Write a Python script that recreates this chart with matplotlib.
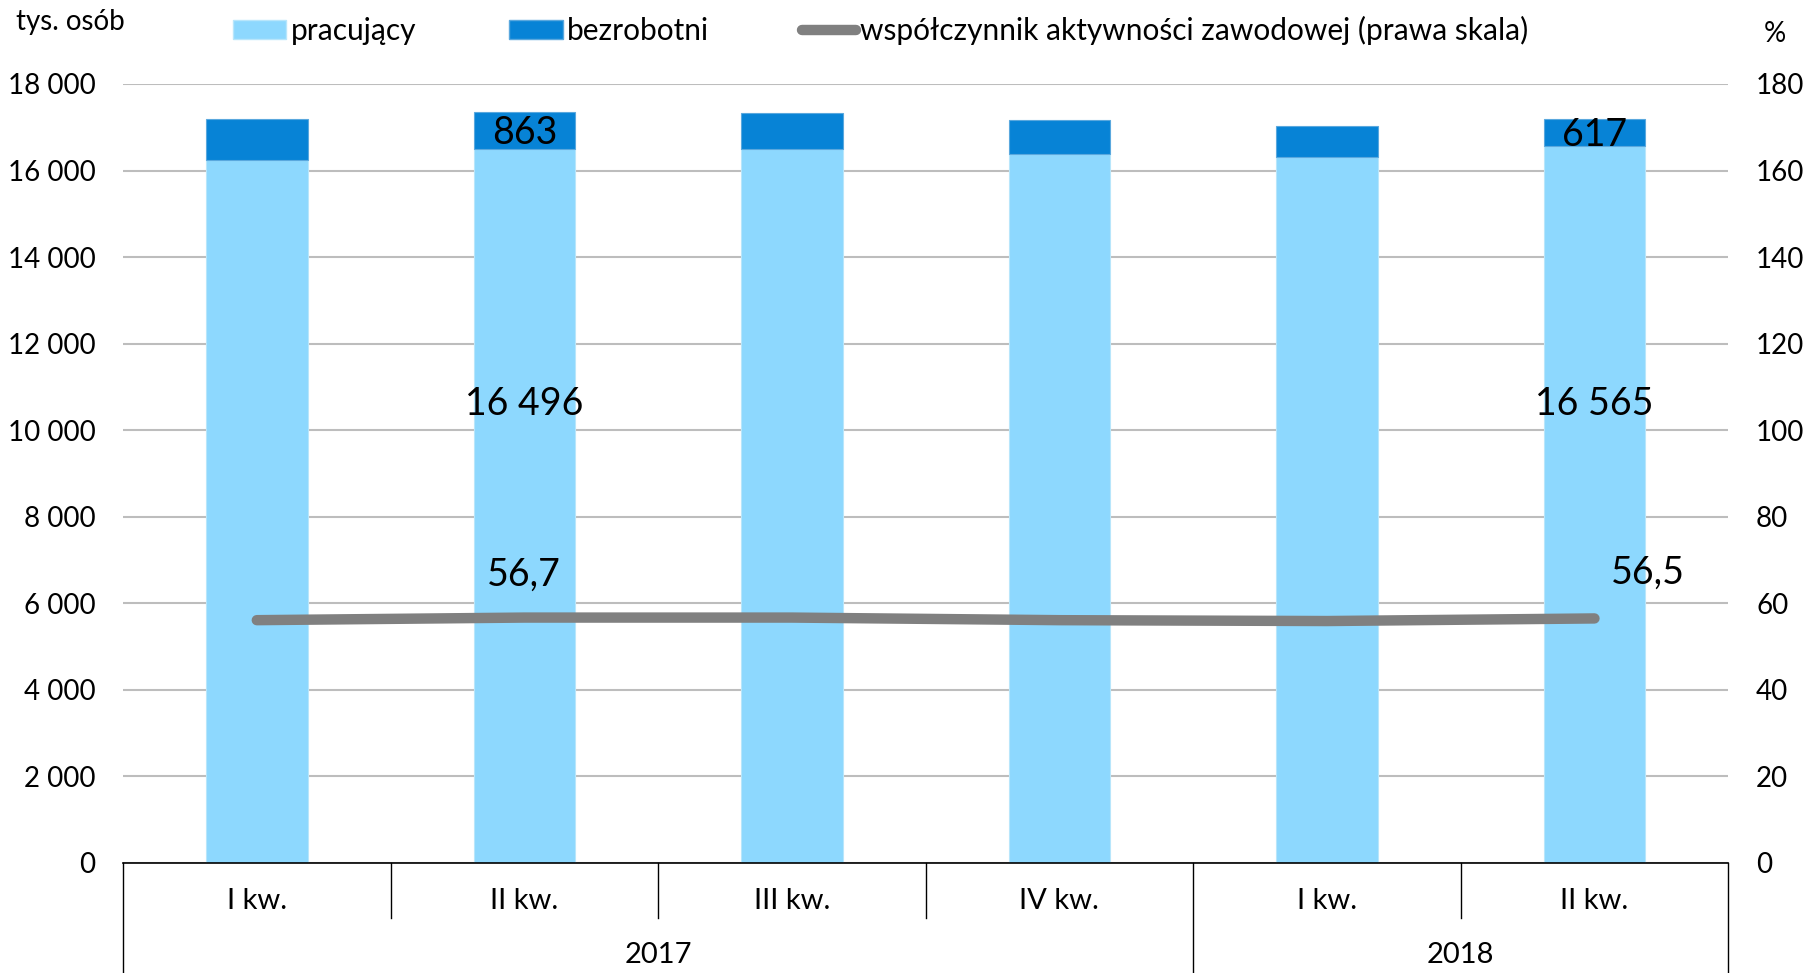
import matplotlib

matplotlib.use("Agg")
import matplotlib.pyplot as plt
from matplotlib.lines import Line2D
from matplotlib.patches import Patch
from matplotlib.ticker import FuncFormatter, MultipleLocator

plt.rcParams["font.family"] = ["Lato", "DejaVu Sans"]

quarters = ["I kw.", "II kw.", "III kw.", "IV kw.", "I kw.", "II kw."]
years = ["2017", "2018"]
year_spans = [(0, 3), (4, 5)]  # first/last quarter index of each year

employed = [16245, 16496, 16490, 16375, 16320, 16565]
unemployed = [947, 863, 830, 790, 715, 617]
activity = [56.1, 56.7, 56.7, 56.1, 55.9, 56.5]

# which points carry a data label
label_idx = [1, 5]

C_EMP = "#8dd8fe"
C_UNEMP = "#0783d6"
C_LINE = "#808080"
C_GRID = "#bdbdbd"

fig = plt.figure(figsize=(18.04, 9.73), dpi=100)
ax = fig.add_axes([0.0682, 0.1131, 0.8898, 0.8006])
ax2 = ax.twinx()

x = list(range(len(quarters)))
ax.bar(x, employed, width=0.38, color=C_EMP, edgecolor="#b8e6fb", linewidth=0.8, zorder=2)
ax.bar(x, unemployed, width=0.38, bottom=employed, color=C_UNEMP,
       edgecolor="#5aa8de", linewidth=0.8, zorder=2)

ax2.plot(x, activity, color=C_LINE, lw=7.5, solid_capstyle="round",
         solid_joinstyle="round", zorder=3)

ax.set_xlim(-0.5, len(quarters) - 0.5)
ax.set_ylim(0, 18000)
ax2.set_ylim(0, 180)
ax.yaxis.set_major_locator(MultipleLocator(2000))
ax2.yaxis.set_major_locator(MultipleLocator(20))
ax.yaxis.set_major_formatter(FuncFormatter(lambda v, _: f"{int(v):,}".replace(",", " ")))
ax.grid(axis="y", color=C_GRID, lw=1.5, zorder=0)
ax.set_axisbelow(True)

for a in (ax, ax2):
    for s in ("top", "left", "right"):
        a.spines[s].set_visible(False)
    a.tick_params(axis="y", length=0, labelsize=20, pad=20)
ax2.spines["bottom"].set_visible(False)
ax.spines["bottom"].set_color("black")
ax.spines["bottom"].set_linewidth(1.2)
ax.set_xticks([])
ax2.set_zorder(ax.get_zorder() + 1)
ax.patch.set_visible(True)
ax2.patch.set_visible(False)

# two-level category axis
tr = ax.get_xaxis_transform()
outer = {-0.5} | {hi + 0.5 for _, hi in year_spans}
for i in range(len(quarters) + 1):
    xs = i - 0.5
    y_end = -0.141 if xs in outer else -0.0706
    ax.plot([xs, xs], [0, y_end], transform=tr, color="black", lw=1.0, clip_on=False)
for i, q in enumerate(quarters):
    ax.text(i, -0.049, q, transform=tr, ha="center", va="center", fontsize=21)
for (lo, hi), yr in zip(year_spans, years):
    ax.text((lo + hi) / 2, -0.118, yr, transform=tr, ha="center", va="center", fontsize=21)

# data labels
for i in label_idx:
    ax.text(i, employed[i] + unemployed[i] / 2 - 60, f"{unemployed[i]}", ha="center",
            va="center", fontsize=27, zorder=5)
    ax.text(i, 10600, f"{employed[i]:,}".replace(",", " "), ha="center", va="center",
            fontsize=27, zorder=5)
ax2.text(label_idx[0], 66.5, f"{activity[label_idx[0]]}".replace(".", ","), ha="center",
         va="center", fontsize=27, zorder=5)
ax2.text(label_idx[1] + 0.2, 67, f"{activity[label_idx[1]]}".replace(".", ","), ha="center",
         va="center", fontsize=27, zorder=5)

fig.text(0.009, 0.977, "tys. osób", ha="left", va="center", fontsize=20)
fig.text(0.984, 0.965, "%", ha="center", va="center", fontsize=20)

handles = [
    Patch(facecolor=C_EMP, edgecolor="#b8e6fb", label="pracujący"),
    Patch(facecolor=C_UNEMP, edgecolor="#5aa8de", label="bezrobotni"),
    Line2D([], [], color=C_LINE, lw=7.5, solid_capstyle="round",
           label="współczynnik aktywności zawodowej (prawa skala)"),
]
fig.legend(handles=handles, loc="center left", bbox_to_anchor=(0.114, 0.969), ncol=3,
           frameon=False, fontsize=21.5, handlelength=1.8, handleheight=0.6,
           handletextpad=0.15, columnspacing=3.1)

fig.savefig("out.png", dpi=100)
